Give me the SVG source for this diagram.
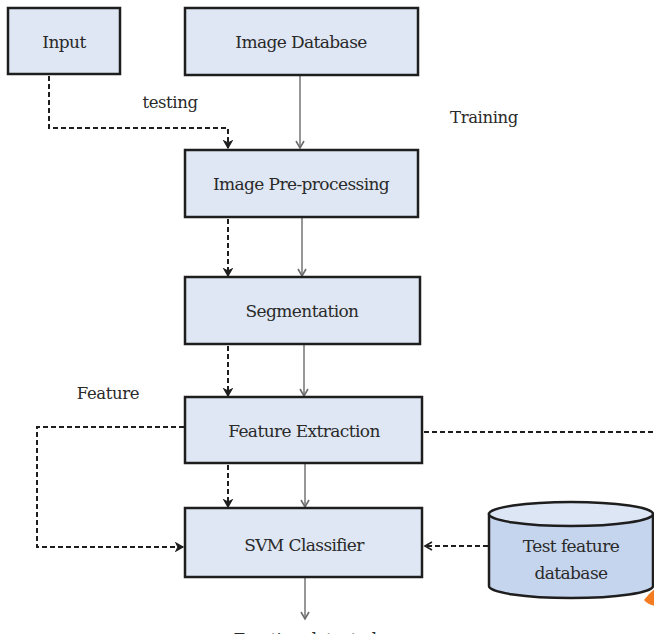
<svg xmlns="http://www.w3.org/2000/svg" width="654" height="634" viewBox="0 0 654 634">
<defs>
<style>
.box{fill:#dfe7f4;stroke:#1e1e1e;stroke-width:2.5}
.t{font-family:"DejaVu Serif","Liberation Serif",serif;font-size:17px;fill:#2a2a2a;text-anchor:middle;letter-spacing:-0.6px}
.lbl{font-family:"DejaVu Serif","Liberation Serif",serif;font-size:16.5px;fill:#2a2a2a;text-anchor:middle;letter-spacing:-0.4px}
.solid{fill:none;stroke:#6b6b6b;stroke-width:1.4}
.dash{fill:none;stroke:#1e1e1e;stroke-width:2;stroke-dasharray:5,3}
</style>
<marker id="ag" markerWidth="10" markerHeight="10" refX="8" refY="5" orient="auto" markerUnits="userSpaceOnUse">
<path d="M1,1 L8,5 L1,9" fill="none" stroke="#6b6b6b" stroke-width="1.6"/>
</marker>
<marker id="ab" markerWidth="10" markerHeight="10" refX="8" refY="5" orient="auto" markerUnits="userSpaceOnUse">
<path d="M1,1 L8,5 L1,9 L3,5 Z" fill="#1e1e1e" stroke="#1e1e1e" stroke-width="1.2"/>
</marker>
<marker id="ao" markerWidth="10" markerHeight="10" refX="8" refY="5" orient="auto" markerUnits="userSpaceOnUse">
<path d="M1,1 L8,5 L1,9" fill="none" stroke="#1e1e1e" stroke-width="1.6"/>
</marker>
</defs>
<g id="connectors">
<path class="solid" d="M300,75 V148" marker-end="url(#ag)"/>
<path class="solid" d="M302,218 V276" marker-end="url(#ag)"/>
<path class="solid" d="M304,345 V396" marker-end="url(#ag)"/>
<path class="solid" d="M305,464 V507" marker-end="url(#ag)"/>
<path class="solid" d="M305,578 V619" marker-end="url(#ag)"/>
<path class="dash" d="M49,76 V128 H228 V148" marker-end="url(#ab)"/>
<path class="dash" d="M228,219 V276" marker-end="url(#ab)"/>
<path class="dash" d="M228,346 V396" marker-end="url(#ab)"/>
<path class="dash" d="M228,465 V507" marker-end="url(#ab)"/>
<path class="dash" d="M184,427 H37 V547 H183" marker-end="url(#ab)"/>
<path class="dash" d="M424,432 H654"/>
<path class="dash" d="M488,546 H425" marker-end="url(#ao)"/>
</g>
<g id="labels">
<text class="lbl" x="170" y="108">testing</text>
<text class="lbl" x="484" y="123">Training</text>
<text class="lbl" x="108" y="399">Feature</text>
<text class="t" x="305" y="645">Emotion detected</text>
</g>
<g id="input"><rect class="box" x="8" y="8" width="112" height="66"/><text class="t" x="64" y="48">Input</text></g>
<g id="image-database"><rect class="box" x="185" y="8" width="233" height="67"/><text class="t" x="301" y="48">Image Database</text></g>
<g id="pre-processing"><rect class="box" x="185" y="150" width="233" height="67"/><text class="t" x="301" y="190">Image Pre-processing</text></g>
<g id="segmentation"><rect class="box" x="185" y="277" width="235" height="67"/><text class="t" x="302" y="317">Segmentation</text></g>
<g id="feature-extraction"><rect class="box" x="185" y="397" width="237" height="66"/><text class="t" x="304" y="437">Feature Extraction</text></g>
<g id="svm-classifier"><rect class="box" x="185" y="508" width="237" height="69"/><text class="t" x="304" y="551">SVM Classifier</text></g>
<g id="orange"><path d="M644,600 Q650,592 656,588 L656,606 Q648,605 644,600 Z" fill="#f47c20"/></g>
<g id="test-feature-database">
<path d="M489,514 V586 A82,12 0 0 0 653,586 V514 Z" fill="#c6d5ee" stroke="#1e1e1e" stroke-width="2.5"/>
<ellipse cx="571" cy="514" rx="82" ry="12" fill="#dde6f5" stroke="#1e1e1e" stroke-width="2.5"/>
<text class="t" x="571" y="552">Test feature</text>
<text class="t" x="571" y="579">database</text>
</g>
</svg>
